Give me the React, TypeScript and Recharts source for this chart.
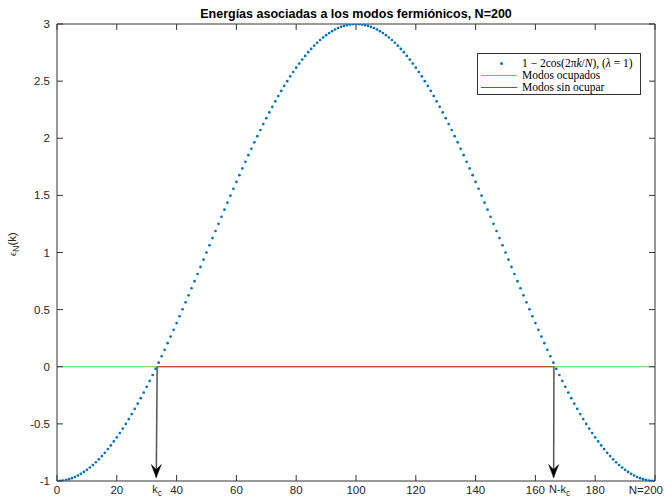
import React from 'react';
import { ComposedChart, XAxis, YAxis, Scatter, Line, Legend } from 'recharts';

// epsilon_N(k) for k = 0..200
const energies = [
  -1.000, -0.999, -0.996, -0.991, -0.984, -0.975, -0.965, -0.952, -0.937, -0.921,
  -0.902, -0.882, -0.860, -0.836, -0.810, -0.782, -0.753, -0.721, -0.689, -0.654,
  -0.618, -0.580, -0.541, -0.500, -0.458, -0.414, -0.369, -0.323, -0.275, -0.226,
  -0.176, -0.124, -0.072, -0.018, 0.036, 0.092, 0.148, 0.206, 0.264, 0.323,
  0.382, 0.442, 0.503, 0.564, 0.625, 0.687, 0.749, 0.812, 0.874, 0.937,
  1.000, 1.063, 1.126, 1.188, 1.251, 1.313, 1.375, 1.436, 1.497, 1.558,
  1.618, 1.677, 1.736, 1.794, 1.852, 1.908, 1.964, 2.018, 2.072, 2.124,
  2.176, 2.226, 2.275, 2.323, 2.369, 2.414, 2.458, 2.500, 2.541, 2.580,
  2.618, 2.654, 2.689, 2.721, 2.753, 2.782, 2.810, 2.836, 2.860, 2.882,
  2.902, 2.921, 2.937, 2.952, 2.965, 2.975, 2.984, 2.991, 2.996, 2.999,
  3.000,
  2.999, 2.996, 2.991, 2.984, 2.975, 2.965, 2.952, 2.937, 2.921, 2.902,
  2.882, 2.860, 2.836, 2.810, 2.782, 2.753, 2.721, 2.689, 2.654, 2.618,
  2.580, 2.541, 2.500, 2.458, 2.414, 2.369, 2.323, 2.275, 2.226, 2.176,
  2.124, 2.072, 2.018, 1.964, 1.908, 1.852, 1.794, 1.736, 1.677, 1.618,
  1.558, 1.497, 1.436, 1.375, 1.313, 1.251, 1.188, 1.126, 1.063, 1.000,
  0.937, 0.874, 0.812, 0.749, 0.687, 0.625, 0.564, 0.503, 0.442, 0.382,
  0.323, 0.264, 0.206, 0.148, 0.092, 0.036, -0.018, -0.072, -0.124, -0.176,
  -0.226, -0.275, -0.323, -0.369, -0.414, -0.458, -0.500, -0.541, -0.580, -0.618,
  -0.654, -0.689, -0.721, -0.753, -0.782, -0.810, -0.836, -0.860, -0.882, -0.902,
  -0.921, -0.937, -0.952, -0.965, -0.975, -0.984, -0.991, -0.996, -0.999, -1.000,
];

const kc = 33.5;
const nMinusKc = 166.2;
const kMax = 200;

const xTickValues = [0, 20, kc, 40, 60, 80, 100, 120, 140, 160, nMinusKc, 180, 200];
const xTickLabels = ['0', '20', 'k_c', '40', '60', '80', '100', '120', '140', '160', 'N-k_c', '180', 'N=200'];
const boxTickValues = [0, 20, 40, 60, 80, 100, 120, 140, 160, 180, 200];
const yTickValues = [-1, -0.5, 0, 0.5, 1, 1.5, 2, 2.5, 3];
const yTickLabels = ['-1', '-0.5', '0', '0.5', '1', '1.5', '2', '2.5', '3'];

const occupiedX = [0, kMax];
const occupiedY = [0, 0];
const unoccupiedX = [kc, nMinusKc];
const unoccupiedY = [0, 0];
const arrow1X = [kc, kc - 0.3];
const arrow2X = [nMinusKc, nMinusKc - 0.1];
const arrowY = [0, -0.97];

const titleText = 'Energías asociadas a los modos fermiónicos, N=200';
const legendLabels = ['1 − 2cos(2πk/N), (λ = 1)', 'Modos ocupados', 'Modos sin ocupar'];

const BLUE = '#0072BD';
const GREEN = '#4fd44f';
const RED = '#d92b2b';
const AXIS = '#333333';
const TEXT = '#262626';
const SANS = '"Liberation Sans", Arial, Helvetica, sans-serif';
const SERIF = '"Liberation Serif", "DejaVu Serif", serif';

const points = energies.map((y, k) => ({ k, y }));
const toRows = (xs: number[], ys: number[]) => xs.map((x, i) => ({ k: x, y: ys[i] }));
const occupiedData = toRows(occupiedX, occupiedY);
const unoccupiedData = toRows(unoccupiedX, unoccupiedY);
const arrow1Data = toRows(arrow1X, arrowY);
const arrow2Data = toRows(arrow2X, arrowY);

const BottomTick = (props: any) => {
  const { x, y, payload } = props;
  const v = payload.value;
  const idx = xTickValues.indexOf(v);
  const label = idx >= 0 ? xTickLabels[idx] : String(v);
  const isBox = boxTickValues.indexOf(v) >= 0;
  const isLast = idx === xTickValues.length - 1;
  let txt: React.ReactNode;
  if (label.indexOf('_') >= 0) {
    const [base, sub] = label.split('_');
    const wide = base.length > 1;
    txt = (
      <text
        x={wide ? x - 5 : x}
        y={y + 12}
        textAnchor={wide ? 'start' : 'middle'}
        fill={TEXT}
        fontFamily={SANS}
        fontSize={11}
      >
        {base}
        <tspan dy={3} fontSize={8.5}>{sub}</tspan>
      </text>
    );
  } else {
    txt = (
      <text
        x={isLast ? x + 8 : x}
        y={y + 13}
        textAnchor={isLast ? 'end' : 'middle'}
        fill={TEXT}
        fontFamily={SANS}
        fontSize={11.5}
      >
        {label}
      </text>
    );
  }
  return (
    <g>
      {isBox && <line x1={x} x2={x} y1={y} y2={y - 6} stroke={AXIS} strokeWidth={1} />}
      {txt}
    </g>
  );
};

const LeftTick = (props: any) => {
  const { x, y, payload } = props;
  const idx = yTickValues.indexOf(payload.value);
  const label = idx >= 0 ? yTickLabels[idx] : String(payload.value);
  return (
    <g>
      <line x1={x} x2={x + 6} y1={y} y2={y} stroke={AXIS} strokeWidth={1} />
      <text x={x - 7} y={y + 4} textAnchor="end" fill={TEXT} fontFamily={SANS} fontSize={11.5}>
        {label}
      </text>
    </g>
  );
};

const Dot = (props: any) => {
  const { cx, cy } = props;
  return <circle cx={cx} cy={cy} r={1.35} fill={BLUE} />;
};

const ArrowHead = (props: any) => {
  const { cx, cy, index } = props;
  if (index !== 1 || cx == null) return <g key={`a${index}`} />;
  return (
    <path
      key={`a${index}`}
      d={`M ${cx} ${cy} L ${cx - 5} ${cy - 13} L ${cx} ${cy - 8} L ${cx + 5} ${cy - 13} Z`}
      fill="#000"
      stroke="#000"
      strokeWidth={0.5}
    />
  );
};

const LegendBox = () => (
  <div
    style={{
      width: 164,
      height: 42,
      border: `1px solid ${AXIS}`,
      background: '#fff',
      boxSizing: 'border-box',
      fontFamily: SERIF,
      fontSize: 11.5,
      color: '#000',
      paddingTop: 3,
    }}
  >
    {legendLabels.map((lab, i) => (
      <div key={i} style={{ display: 'flex', alignItems: 'center', height: 12, whiteSpace: 'nowrap' }}>
        <div style={{ width: 42, height: 12, position: 'relative', flex: 'none' }}>
          {i === 0 ? (
            <div
              style={{
                position: 'absolute',
                left: 22,
                top: 5,
                width: 3,
                height: 3,
                borderRadius: 2,
                background: BLUE,
              }}
            />
          ) : (
            <div
              style={{
                position: 'absolute',
                left: 3,
                top: 6,
                width: 36,
                height: 1,
                background: i === 1 ? GREEN : RED,
              }}
            />
          )}
        </div>
        <span style={{ marginLeft: 2 }}>
          {i === 0 ? (
            <>
              1 − 2cos(2π<i>k</i>/<i>N</i>), (<i>λ</i> = 1)
            </>
          ) : (
            lab
          )}
        </span>
      </div>
    ))}
  </div>
);

export default function App() {
  return (
    <div style={{ position: 'absolute', left: 0, top: 0, width: 664, height: 499, background: '#fff' }}>
      <ComposedChart
        width={664}
        height={499}
        data={points}
        margin={{ top: 0, right: 0, bottom: 0, left: 0 }}
      >
        <XAxis
          xAxisId="b"
          type="number"
          dataKey="k"
          domain={[0, kMax]}
          ticks={xTickValues}
          interval={0}
          height={18}
          tickSize={0}
          tickMargin={0}
          tickLine={false}
          axisLine={{ stroke: AXIS, strokeWidth: 1 }}
          tick={<BottomTick />}
          allowDataOverflow
        />
        <XAxis
          xAxisId="t"
          orientation="top"
          type="number"
          dataKey="k"
          domain={[0, kMax]}
          ticks={boxTickValues}
          interval={0}
          height={24}
          tickSize={-6}
          tickFormatter={() => ''}
          tickLine={{ stroke: AXIS, strokeWidth: 1 }}
          axisLine={{ stroke: AXIS, strokeWidth: 1 }}
          allowDataOverflow
        />
        <YAxis
          yAxisId="l"
          type="number"
          domain={[-1, 3]}
          ticks={yTickValues}
          interval={0}
          width={57}
          tickSize={0}
          tickMargin={0}
          tickLine={false}
          axisLine={{ stroke: AXIS, strokeWidth: 1 }}
          tick={<LeftTick />}
          allowDataOverflow
        />
        <YAxis
          yAxisId="r"
          orientation="right"
          type="number"
          domain={[-1, 3]}
          ticks={yTickValues}
          interval={0}
          width={9}
          tickSize={-6}
          tickFormatter={() => ''}
          tickLine={{ stroke: AXIS, strokeWidth: 1 }}
          axisLine={{ stroke: AXIS, strokeWidth: 1 }}
          allowDataOverflow
        />
        <Line
          xAxisId="b"
          yAxisId="l"
          data={occupiedData}
          dataKey="y"
          type="linear"
          stroke={GREEN}
          strokeWidth={1}
          dot={false}
          activeDot={false}
          isAnimationActive={false}
          legendType="none"
        />
        <Line
          xAxisId="b"
          yAxisId="l"
          data={unoccupiedData}
          dataKey="y"
          type="linear"
          stroke={RED}
          strokeWidth={1}
          dot={false}
          activeDot={false}
          isAnimationActive={false}
          legendType="none"
        />
        <Scatter
          xAxisId="b"
          yAxisId="l"
          data={points}
          dataKey="y"
          fill={BLUE}
          shape={<Dot />}
          isAnimationActive={false}
          legendType="none"
        />
        <Line
          xAxisId="b"
          yAxisId="l"
          data={arrow1Data}
          dataKey="y"
          type="linear"
          stroke="#555555"
          strokeWidth={1.5}
          dot={ArrowHead}
          activeDot={false}
          isAnimationActive={false}
          legendType="none"
        />
        <Line
          xAxisId="b"
          yAxisId="l"
          data={arrow2Data}
          dataKey="y"
          type="linear"
          stroke="#555555"
          strokeWidth={1.5}
          dot={ArrowHead}
          activeDot={false}
          isAnimationActive={false}
          legendType="none"
        />
        <Legend
          layout="vertical"
          align="center"
          verticalAlign="middle"
          content={() => <LegendBox />}
          wrapperStyle={{ position: 'absolute', left: 477, top: 53, width: 164, height: 42 }}
        />
      </ComposedChart>
      <svg
        width={664}
        height={499}
        style={{ position: 'absolute', left: 0, top: 0, pointerEvents: 'none' }}
      >
        <text x={356} y={18} textAnchor="middle" fontFamily={SANS} fontWeight="bold" fontSize={12.5} fill="#000">
          {titleText}
        </text>
        <text
          transform="translate(16, 244) rotate(-90)"
          textAnchor="middle"
          fontFamily={SANS}
          fontSize={11.5}
          fill={TEXT}
        >
          <tspan fontSize={9}>ϵ</tspan>
          <tspan dy={3} fontSize={9}>N</tspan>
          <tspan dy={-3}>(k)</tspan>
        </text>
      </svg>
    </div>
  );
}
